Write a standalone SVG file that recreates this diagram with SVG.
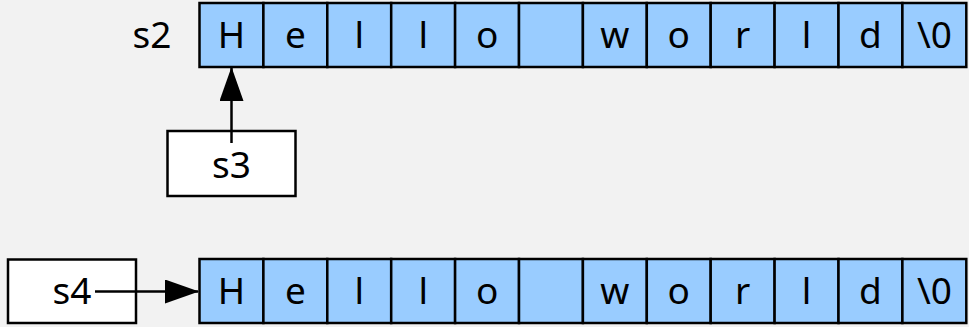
<svg xmlns="http://www.w3.org/2000/svg" width="969" height="327" viewBox="0 0 969 327">
<style>
.bg{fill:#F2F2F2}
.cell{fill:#99CCFF;stroke:#000;stroke-width:2.5}
.box{fill:#FFFFFF;stroke:#000;stroke-width:2.5}
.t{font-family:"Noto Sans","Liberation Sans",sans-serif;font-size:37px;fill:#000;text-anchor:middle}
.conn{stroke:#000;stroke-width:2.5;fill:none}
</style>
<defs>
<marker id="ah" markerUnits="userSpaceOnUse" markerWidth="34" markerHeight="24" refX="33" refY="12" orient="auto">
<path d="M0,0 L34,12 L0,24 Z" fill="#000"/>
</marker>
</defs>
<rect class="bg" x="0" y="0" width="969" height="327"/>
<g id="s2-label"><text class="t" x="152" y="48">s2</text></g>
<g id="s2">
<rect class="cell" x="199.5" y="3" width="63.9" height="64"/>
<rect class="cell" x="263.4" y="3" width="63.9" height="64"/>
<rect class="cell" x="327.3" y="3" width="63.9" height="64"/>
<rect class="cell" x="391.2" y="3" width="63.9" height="64"/>
<rect class="cell" x="455.1" y="3" width="63.9" height="64"/>
<rect class="cell" x="519" y="3" width="63.9" height="64"/>
<rect class="cell" x="582.9" y="3" width="63.9" height="64"/>
<rect class="cell" x="646.8" y="3" width="63.9" height="64"/>
<rect class="cell" x="710.7" y="3" width="63.9" height="64"/>
<rect class="cell" x="774.6" y="3" width="63.9" height="64"/>
<rect class="cell" x="838.5" y="3" width="63.9" height="64"/>
<rect class="cell" x="902.4" y="3" width="63.9" height="64"/>
<text class="t" x="231.5" y="48">H</text>
<text class="t" x="295.4" y="48">e</text>
<text class="t" x="359.3" y="48">l</text>
<text class="t" x="423.2" y="48">l</text>
<text class="t" x="487.1" y="48">o</text>
<text class="t" x="614.9" y="48">w</text>
<text class="t" x="678.8" y="48">o</text>
<text class="t" x="742.7" y="48">r</text>
<text class="t" x="806.6" y="48">l</text>
<text class="t" x="870.5" y="48">d</text>
<text class="t" x="934.4" y="48">\0</text>
</g>
<g id="s4-arr">
<rect class="cell" x="199.5" y="259" width="63.9" height="64"/>
<rect class="cell" x="263.4" y="259" width="63.9" height="64"/>
<rect class="cell" x="327.3" y="259" width="63.9" height="64"/>
<rect class="cell" x="391.2" y="259" width="63.9" height="64"/>
<rect class="cell" x="455.1" y="259" width="63.9" height="64"/>
<rect class="cell" x="519" y="259" width="63.9" height="64"/>
<rect class="cell" x="582.9" y="259" width="63.9" height="64"/>
<rect class="cell" x="646.8" y="259" width="63.9" height="64"/>
<rect class="cell" x="710.7" y="259" width="63.9" height="64"/>
<rect class="cell" x="774.6" y="259" width="63.9" height="64"/>
<rect class="cell" x="838.5" y="259" width="63.9" height="64"/>
<rect class="cell" x="902.4" y="259" width="63.9" height="64"/>
<text class="t" x="231.5" y="304">H</text>
<text class="t" x="295.4" y="304">e</text>
<text class="t" x="359.3" y="304">l</text>
<text class="t" x="423.2" y="304">l</text>
<text class="t" x="487.1" y="304">o</text>
<text class="t" x="614.9" y="304">w</text>
<text class="t" x="678.8" y="304">o</text>
<text class="t" x="742.7" y="304">r</text>
<text class="t" x="806.6" y="304">l</text>
<text class="t" x="870.5" y="304">d</text>
<text class="t" x="934.4" y="304">\0</text>
</g>
<g id="s3">
<rect class="box" x="167.5" y="131" width="128" height="65"/>
<text class="t" x="231.5" y="178">s3</text>
</g>
<g id="s4">
<rect class="box" x="8" y="259.5" width="128" height="63.5"/>
<text class="t" x="72" y="304">s4</text>
</g>
<g id="connectors">
<line class="conn" x1="231.5" y1="143" x2="231.5" y2="68" marker-end="url(#ah)"/>
<line class="conn" x1="95" y1="291.5" x2="198" y2="291.5" marker-end="url(#ah)"/>
</g>
</svg>
